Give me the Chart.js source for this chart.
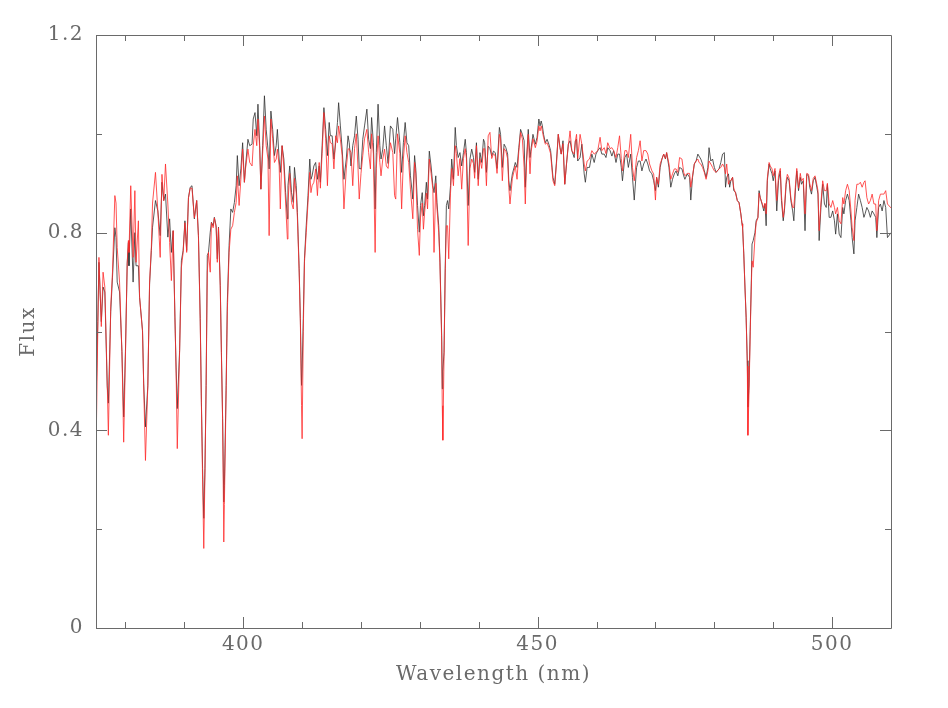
<!DOCTYPE html>
<html>
<head>
<meta charset="utf-8">
<script src="https://cdn.jsdelivr.net/npm/chart.js@4.4.1/dist/chart.umd.min.js"></script>
<style>
  body { margin: 0; background: #fff; }
  #wrap { width: 948px; height: 708px; }
</style>
</head>
<body>
<div id="wrap"><canvas id="spec" width="948" height="708"></canvas></div>
<script>
// wavelength grid (nm)
var wave = [
  375.0,375.3,375.5,375.9,376.2,376.5,376.9,377.1,377.5,377.8,378.2,378.4,378.6,379.0,379.4,379.7,
  380.0,380.3,380.5,380.6,380.9,381.3,381.6,381.8,382.2,382.4,382.9,383.1,383.4,383.8,384.1,384.4,
  384.6,385.1,385.5,385.9,386.2,386.5,386.8,387.2,387.5,387.8,388.1,388.4,388.6,388.8,389.2,389.5,
  389.8,390.1,390.4,390.7,391.0,391.3,391.7,392.1,392.4,392.7,392.9,393.1,393.3,393.5,393.7,393.9,
  394.1,394.4,394.6,394.9,395.1,395.4,395.6,395.8,396.1,396.3,396.5,396.7,396.8,397.1,397.3,397.6,
  397.9,398.2,398.5,398.8,399.0,399.3,399.6,399.9,400.2,400.4,400.8,401.1,401.5,401.7,402.0,402.3,
  402.5,402.8,403.0,403.3,403.6,403.9,404.2,404.4,404.7,405.0,405.3,405.6,405.8,406.1,406.3,406.6,
  406.9,407.2,407.5,407.6,407.9,408.2,408.5,408.7,409.0,409.2,409.5,409.7,409.9,410.0,410.2,410.4,
  410.7,411.0,411.3,411.5,411.7,412.0,412.3,412.6,412.9,413.1,413.4,413.7,414.0,414.3,414.6,414.8,
  415.1,415.4,415.7,416.0,416.2,416.5,416.8,417.1,417.5,417.8,418.0,418.3,418.6,418.9,419.2,419.5,
  419.7,420.0,420.3,420.6,421.0,421.3,421.6,421.8,422.1,422.4,422.6,422.9,423.2,423.4,423.7,424.0,
  424.3,424.6,425.0,425.4,425.7,425.9,426.2,426.6,426.9,427.2,427.5,427.8,428.1,428.4,428.8,429.1,
  429.3,429.6,429.9,430.1,430.4,430.6,430.8,431.1,431.3,431.6,431.9,432.2,432.4,432.7,432.9,433.2,
  433.4,433.7,433.8,433.9,434.1,434.3,434.5,434.7,434.9,435.2,435.4,435.7,436.0,436.2,436.5,436.8,
  437.1,437.4,437.7,437.9,438.2,438.5,438.8,439.1,439.3,439.6,439.9,440.2,440.5,440.8,441.0,441.3,
  441.6,441.9,442.2,442.5,442.8,443.1,443.5,443.7,444.0,444.3,444.6,444.9,445.1,445.3,445.7,446.0,
  446.2,446.5,446.8,447.1,447.4,447.7,447.9,448.1,448.4,448.7,448.9,449.2,449.6,449.9,450.2,450.4,
  450.6,450.8,451.0,451.3,451.6,451.9,452.2,452.4,452.6,452.9,453.2,453.5,453.8,454.0,454.3,454.6,
  454.9,455.2,455.5,455.8,456.2,456.4,456.6,456.8,457.2,457.5,457.9,458.1,458.4,458.8,459.2,459.6,
  459.9,460.2,460.6,460.9,461.3,461.6,461.9,462.3,462.6,462.9,463.3,463.6,463.9,464.2,464.4,464.8,
  465.1,465.4,465.8,466.1,466.4,466.8,467.1,467.4,467.7,468.0,468.4,468.7,469.0,469.4,469.7,470.0,
  470.2,470.5,470.8,471.1,471.4,471.7,471.9,472.3,472.6,472.9,473.2,473.5,473.8,474.1,474.5,474.8,
  475.0,475.4,475.8,476.0,476.3,476.6,476.9,477.2,477.4,477.7,478.0,478.3,478.6,478.9,479.1,479.4,
  479.7,480.0,480.3,480.5,480.8,481.1,481.4,481.7,481.9,482.1,482.4,482.6,482.8,483.1,483.3,483.6,
  483.9,484.2,484.5,484.7,484.8,485.0,485.2,485.4,485.6,485.7,485.9,486.1,486.3,486.4,486.6,486.9,
  487.1,487.4,487.6,487.8,488.1,488.4,488.6,488.8,489.0,489.3,489.5,489.8,490.0,490.3,490.6,490.9,
  491.2,491.4,491.7,491.9,492.2,492.4,492.7,493.0,493.3,493.5,493.8,494.0,494.3,494.6,494.8,495.1,
  495.4,495.7,496.0,496.2,496.5,496.8,497.1,497.4,497.6,497.8,498.1,498.4,498.7,499.0,499.2,499.5,
  499.8,500.1,500.4,500.6,500.9,501.2,501.5,501.8,502.0,502.3,502.6,502.9,503.2,503.4,503.7,503.9,
  504.2,504.5,504.8,505.1,505.4,505.6,505.9,506.2,506.5,506.8,507.1,507.4,507.6,507.9,508.2,508.5,
  508.8,509.1,509.4,510.0
];

// black spectrum
var fluxBlack = [
  0.45,0.62,0.74,0.62,0.69,0.68,0.49,0.455,0.64,0.71,0.81,0.79,0.70,0.68,0.56,0.427,
  0.56,0.737,0.78,0.733,0.848,0.70,0.80,0.733,0.733,0.669,0.602,0.494,0.407,0.49,0.696,0.764,
  0.811,0.865,0.844,0.794,0.902,0.865,0.878,0.791,0.828,0.76,0.804,0.629,0.528,0.444,0.562,0.743,
  0.764,0.824,0.764,0.871,0.892,0.895,0.828,0.865,0.794,0.626,0.457,0.323,0.222,0.323,0.491,0.754,
  0.760,0.801,0.821,0.814,0.831,0.814,0.747,0.811,0.693,0.558,0.424,0.255,0.289,0.491,0.659,0.774,
  0.848,0.841,0.861,0.895,0.956,0.895,0.929,0.982,0.902,0.935,0.989,0.976,0.979,1.030,1.043,0.996,
  1.060,0.976,0.888,0.976,1.077,1.009,0.969,0.929,1.046,1.009,0.956,0.976,1.009,0.949,0.922,0.976,
  0.949,0.881,0.828,0.895,0.935,0.881,0.861,0.932,0.895,0.841,0.727,0.626,0.491,0.52,0.626,0.747,
  0.814,0.875,0.949,0.908,0.915,0.935,0.942,0.908,0.935,0.902,0.976,1.053,1.009,0.956,1.023,0.996,
  0.996,0.949,0.982,1.023,1.063,1.016,0.969,0.908,0.949,0.996,0.982,0.935,0.976,0.996,1.036,0.989,
  0.93,0.929,0.989,1.016,1.050,0.989,0.97,1.033,0.982,0.848,0.962,1.060,0.976,0.949,0.969,1.016,
  0.976,0.94,1.016,1.009,0.96,0.99,1.033,0.982,0.922,0.982,1.023,0.982,0.976,0.915,0.868,0.956,
  0.929,0.855,0.801,0.855,0.881,0.834,0.855,0.902,0.868,0.965,0.935,0.895,0.881,0.915,0.861,0.814,
  0.747,0.592,0.484,0.52,0.558,0.727,0.855,0.865,0.848,0.895,0.949,0.908,1.013,0.976,0.952,0.962,
  0.935,0.962,0.989,0.962,0.855,0.949,0.969,0.952,0.922,0.982,0.908,0.962,0.942,0.989,0.982,0.922,
  0.975,0.97,0.955,0.965,0.962,0.93,1.013,0.999,0.932,0.979,0.972,0.959,0.905,0.885,0.919,0.932,
  0.942,0.932,0.972,1.009,0.999,0.986,0.892,0.945,1.009,0.952,0.972,0.999,0.979,0.993,1.030,1.016,
  1.026,1.016,0.999,0.982,0.989,0.979,0.966,0.939,0.912,0.898,0.945,0.999,0.972,0.959,0.986,0.898,
  0.939,0.979,0.986,0.966,0.952,0.986,0.989,0.945,0.952,0.979,0.919,0.902,0.932,0.932,0.959,0.942,
  0.959,0.966,0.972,0.959,0.959,0.952,0.972,0.966,0.955,0.966,0.942,0.959,0.959,0.932,0.905,0.952,
  0.959,0.932,0.959,0.912,0.866,0.932,0.945,0.945,0.925,0.939,0.949,0.939,0.925,0.919,0.905,0.885,
  0.912,0.892,0.932,0.949,0.959,0.949,0.962,0.932,0.892,0.908,0.919,0.925,0.915,0.932,0.929,0.915,
  0.908,0.919,0.912,0.866,0.912,0.939,0.945,0.959,0.955,0.949,0.939,0.925,0.912,0.932,0.972,0.945,
  0.949,0.932,0.922,0.925,0.929,0.942,0.959,0.962,0.892,0.912,0.919,0.892,0.905,0.912,0.885,0.882,
  0.865,0.861,0.838,0.818,0.811,0.757,0.690,0.629,0.541,0.447,0.494,0.609,0.710,0.777,0.784,0.80,
  0.824,0.831,0.885,0.871,0.858,0.844,0.858,0.814,0.905,0.939,0.929,0.919,0.905,0.925,0.844,0.905,
  0.925,0.865,0.824,0.844,0.898,0.912,0.905,0.865,0.844,0.824,0.892,0.925,0.885,0.912,0.898,0.905,
  0.804,0.918,0.915,0.892,0.878,0.905,0.912,0.892,0.878,0.784,0.851,0.898,0.858,0.851,0.898,0.831,
  0.831,0.844,0.824,0.797,0.838,0.797,0.790,0.851,0.838,0.865,0.878,0.865,0.824,0.790,0.757,0.824,
  0.851,0.878,0.865,0.851,0.831,0.838,0.851,0.844,0.831,0.844,0.838,0.831,0.790,0.851,0.858,0.844,
  0.865,0.851,0.790,0.80
];

// red spectrum
var fluxRed = [
  0.35,0.60,0.75,0.61,0.72,0.69,0.50,0.39,0.65,0.72,0.875,0.86,0.77,0.70,0.56,0.376,
  0.55,0.74,0.784,0.76,0.895,0.75,0.885,0.74,0.824,0.67,0.60,0.49,0.339,0.49,0.70,0.77,
  0.86,0.922,0.844,0.75,0.918,0.865,0.939,0.858,0.78,0.703,0.804,0.63,0.52,0.363,0.56,0.73,
  0.76,0.82,0.76,0.87,0.89,0.89,0.83,0.865,0.79,0.62,0.45,0.30,0.161,0.31,0.49,0.720,
  0.76,0.720,0.82,0.81,0.83,0.81,0.74,0.81,0.69,0.55,0.42,0.174,0.25,0.48,0.64,0.76,
  0.807,0.814,0.841,0.861,0.915,0.855,0.908,0.969,0.902,0.93,0.969,0.942,0.935,0.976,1.009,0.976,
  1.030,0.97,0.888,0.96,1.036,0.976,0.949,0.794,1.030,0.99,0.942,0.949,0.969,0.935,0.848,0.976,
  0.935,0.860,0.787,0.861,0.92,0.861,0.848,0.91,0.88,0.83,0.72,0.62,0.45,0.383,0.60,0.74,
  0.80,0.861,0.922,0.881,0.895,0.902,0.929,0.875,0.942,0.89,0.96,1.043,0.99,0.895,0.996,0.982,
  0.98,0.929,0.996,0.982,1.016,0.989,0.956,0.848,0.929,0.969,0.97,0.962,0.895,0.97,1.0,0.929,
  0.868,0.92,0.956,0.99,1.009,0.962,0.929,1.0,0.96,0.760,0.93,0.996,0.942,0.915,0.949,0.969,
  0.935,0.93,0.982,0.962,0.875,0.868,1.00,0.96,0.848,0.949,0.996,0.962,0.942,0.888,0.828,0.942,
  0.92,0.807,0.754,0.83,0.86,0.807,0.84,0.88,0.848,0.949,0.92,0.888,0.760,0.90,0.85,0.80,
  0.74,0.58,0.45,0.380,0.55,0.72,0.814,0.814,0.747,0.88,0.93,0.895,0.976,0.96,0.915,0.95,
  0.888,0.95,0.97,0.95,0.774,0.93,0.949,0.94,0.91,0.976,0.895,0.95,0.93,0.97,0.97,0.895,
  0.996,1.003,0.95,0.96,0.955,0.92,0.999,0.99,0.905,0.97,0.965,0.95,0.892,0.858,0.91,0.925,
  0.935,0.908,0.965,1.003,0.99,0.932,0.858,0.94,0.999,0.919,0.965,0.99,0.972,0.985,1.016,1.006,
  1.016,1.005,0.993,0.979,0.982,0.972,0.96,0.932,0.905,0.895,0.94,0.999,0.972,0.959,0.98,0.898,
  0.94,0.975,1.006,0.966,0.959,0.985,0.999,0.95,0.999,0.979,0.939,0.925,0.945,0.949,0.966,0.959,
  0.962,0.966,0.993,0.966,0.972,0.96,0.982,0.97,0.972,0.966,0.952,0.972,0.996,0.95,0.925,0.966,
  0.966,0.952,0.999,0.932,0.905,0.952,0.966,0.986,0.945,0.966,0.966,0.959,0.939,0.925,0.919,0.866,
  0.912,0.898,0.939,0.949,0.959,0.95,0.962,0.939,0.908,0.919,0.929,0.929,0.922,0.952,0.949,0.922,
  0.915,0.92,0.92,0.892,0.915,0.939,0.945,0.949,0.942,0.939,0.932,0.922,0.908,0.925,0.945,0.939,
  0.932,0.925,0.922,0.925,0.929,0.932,0.939,0.932,0.919,0.939,0.898,0.905,0.905,0.912,0.89,0.88,
  0.865,0.86,0.838,0.818,0.811,0.757,0.69,0.629,0.53,0.390,0.48,0.60,0.70,0.743,0.730,0.79,
  0.82,0.83,0.88,0.87,0.86,0.85,0.86,0.838,0.91,0.942,0.935,0.929,0.915,0.93,0.865,0.915,
  0.93,0.875,0.831,0.85,0.905,0.918,0.91,0.87,0.851,0.851,0.9,0.93,0.89,0.92,0.905,0.91,
  0.838,0.92,0.918,0.9,0.885,0.91,0.915,0.898,0.885,0.804,0.86,0.905,0.885,0.885,0.9,0.858,
  0.851,0.865,0.851,0.838,0.851,0.824,0.818,0.871,0.858,0.885,0.898,0.885,0.844,0.811,0.784,0.865,
  0.898,0.898,0.902,0.892,0.902,0.905,0.871,0.858,0.865,0.878,0.858,0.858,0.804,0.865,0.878,0.878,
  0.878,0.885,0.858,0.85
];

var xLimits = [375, 510];
var yLimits = [0, 1.2];
var xMajor = [400, 450, 500];
var xMinor = [380, 390, 410, 420, 430, 440, 460, 470, 480, 490];
var yMajor = [0, 0.4, 0.8, 1.2];
var yMinor = [0.2, 0.6, 1.0];

var axisGrey = '#6a6a6a';
var labelFont = { family: 'DejaVu Serif', size: 20 };

function toPoints(ys) {
    return wave.map(function (w, i) { return { x: w, y: ys[i] }; });
}

// wider lettering, closer to the monospaced plot font
var spacing = {
    id: 'spacing',
    beforeInit: function (chart) { chart.ctx.letterSpacing = '1.5px'; },
    beforeDraw: function (chart) { chart.ctx.letterSpacing = '1.5px'; }
};

// box with inward ticks on all four sides, like the original plot
var frameTicks = {
    id: 'frameTicks',
    afterDraw: function (chart) {
        var ctx = chart.ctx;
        var a = chart.chartArea;
        var xs = chart.scales.x, ys = chart.scales.y;
        ctx.save();
        ctx.strokeStyle = axisGrey;
        ctx.lineWidth = 1;
        ctx.beginPath();
        ctx.rect(Math.round(a.left) + 0.5, Math.round(a.top) + 0.5,
                 Math.round(a.right - a.left), Math.round(a.bottom - a.top));
        function xt(v, len) {
            var px = Math.round(xs.getPixelForValue(v)) + 0.5;
            ctx.moveTo(px, a.bottom); ctx.lineTo(px, a.bottom - len);
            ctx.moveTo(px, a.top); ctx.lineTo(px, a.top + len);
        }
        function yt(v, len) {
            var py = Math.round(ys.getPixelForValue(v)) + 0.5;
            ctx.moveTo(a.left, py); ctx.lineTo(a.left + len, py);
            ctx.moveTo(a.right, py); ctx.lineTo(a.right - len, py);
        }
        xMajor.forEach(function (v) { xt(v, 11); });
        xMinor.forEach(function (v) { xt(v, 6); });
        yMajor.forEach(function (v) { yt(v, 11); });
        yMinor.forEach(function (v) { yt(v, 6); });
        ctx.stroke();
        ctx.restore();
    }
};

var ctx = document.getElementById('spec').getContext('2d');
var specChart = new Chart(ctx, {
    type: 'line',
    data: {
        datasets: [{
            label: 'red',
            data: toPoints(fluxRed),
            borderColor: '#ff2a2a',
            borderWidth: 0.8,
            pointRadius: 0,
            tension: 0,
            order: 0
        }, {
            label: 'black',
            data: toPoints(fluxBlack),
            borderColor: '#303030',
            borderWidth: 0.8,
            pointRadius: 0,
            tension: 0,
            order: 1
        }]
    },
    options: {
        responsive: false,
        animation: false,
        events: [],
        layout: { padding: { top: 35, right: 57, left: 0, bottom: 0 } },
        plugins: { legend: { display: false }, tooltip: { enabled: false } },
        scales: {
            x: {
                type: 'linear',
                min: xLimits[0],
                max: xLimits[1],
                grid: { display: false, drawTicks: false },
                border: { display: false },
                afterBuildTicks: function (s) { s.ticks = xMajor.map(function (v) { return { value: v }; }); },
                afterFit: function (s) { s.height = 80; },
                ticks: {
                    color: axisGrey, font: labelFont, padding: 5, maxRotation: 0,
                    callback: function (v) { return String(v); }
                },
                title: {
                    display: true, text: 'Wavelength (nm)', color: axisGrey, font: labelFont,
                    padding: { top: 0, bottom: 21 }
                }
            },
            y: {
                min: yLimits[0],
                max: yLimits[1],
                grid: { display: false, drawTicks: false },
                border: { display: false },
                afterBuildTicks: function (s) { s.ticks = yMajor.map(function (v) { return { value: v }; }); },
                afterFit: function (s) { s.width = 96; },
                ticks: {
                    color: axisGrey, font: labelFont, padding: 12,
                    callback: function (v) { return String(v); }
                },
                title: {
                    display: true, text: 'Flux', color: axisGrey, font: labelFont,
                    padding: { top: 17, bottom: 0 }
                }
            }
        }
    },
    plugins: [spacing, frameTicks]
});
</script>
</body>
</html>
